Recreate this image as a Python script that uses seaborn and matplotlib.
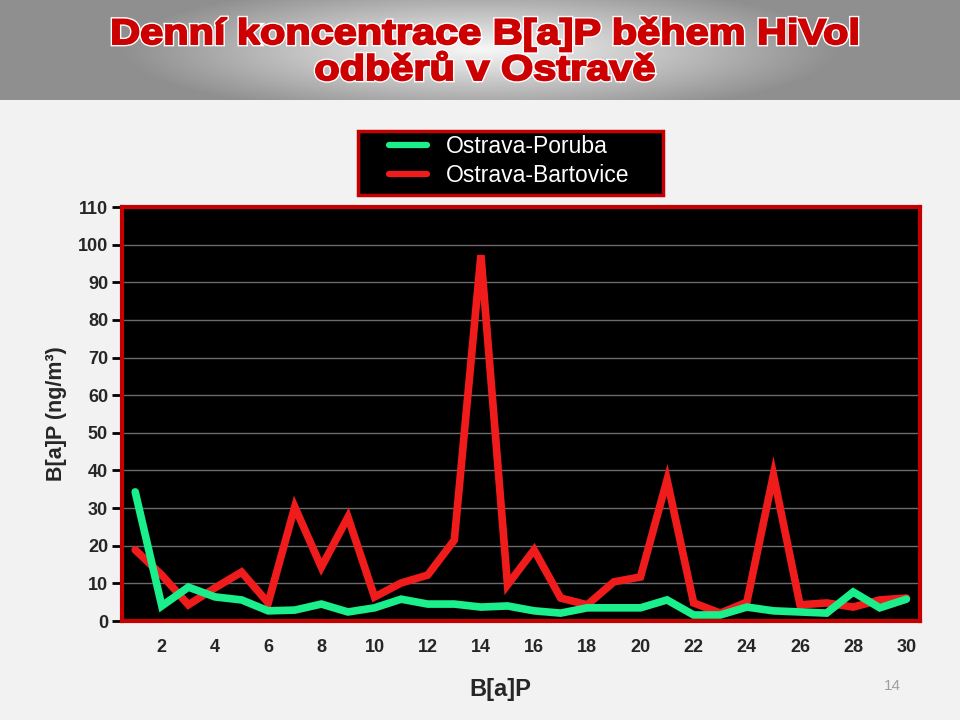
import numpy as np
import pandas as pd
import matplotlib
matplotlib.use("Agg")
import matplotlib.pyplot as plt
from matplotlib.lines import Line2D
from matplotlib.patches import PathPatch, Rectangle
from matplotlib.textpath import TextPath
from matplotlib.font_manager import FontProperties
from matplotlib.transforms import Affine2D
import seaborn as sns

days = list(range(1, 31))
poruba = [34.3, 4.0, 9.0, 6.4, 5.6, 2.7, 2.9, 4.5, 2.4, 3.5,
          5.8, 4.5, 4.5, 3.7, 4.0, 2.7, 2.1, 3.5, 3.5, 3.5,
          5.6, 1.6, 1.6, 3.7, 2.7, 2.4, 2.1, 7.7, 3.5, 5.8]
bartovice = [18.9, 12.2, 4.3, 8.8, 13.0, 4.8, 30.3, 14.3, 27.6, 6.4,
             10.1, 12.2, 21.5, 97.2, 9.6, 18.9, 6.1, 4.3, 10.4, 11.7,
             37.5, 4.8, 2.1, 5.0, 38.8, 4.3, 4.8, 3.7, 5.6, 6.1]
series_names = ["Ostrava-Poruba", "Ostrava-Bartovice"]
y_ticks = list(range(0, 111, 10))
x_labels = list(range(2, 31, 2))
title_lines = ["Denní koncentrace B[a]P během HiVol", "odběrů v Ostravě"]

df = pd.DataFrame({
    "day": days * 2,
    "value": poruba + bartovice,
    "station": [series_names[0]] * 30 + [series_names[1]] * 30,
})

sns.set_style("white")
plt.rcParams["font.family"] = ["Liberation Sans", "DejaVu Sans"]

GREEN = "#1aef8c"
RED = "#f01c1c"
BORDER = "#c40000"
BG = "#f2f2f2"
TITLE_RED = "#cc0000"

W, H = 960, 720
fig = plt.figure(figsize=(9.6, 7.2), dpi=100, facecolor=BG)

# title band with radial gradient
band = fig.add_axes([0, 0.861, 1, 0.139])
gx = np.linspace(-1, 1, 400)
gy = np.linspace(-1, 1, 60)
X, Y = np.meshgrid(gx, gy)
R = np.sqrt((X / 0.75) ** 2 + (Y / 1.4) ** 2)
G = np.clip(1 - R, 0, 1)
lo, hi = 0.56, 0.97
img = lo + (hi - lo) * G
band.imshow(img, cmap="gray", vmin=0, vmax=1, aspect="auto", extent=[0, 1, 0, 1])
band.set_axis_off()
band.set_xlim(0, 1)
band.set_ylim(0, 1)

# heavy title drawn as text paths (pixel coordinates)
fp = FontProperties(family="Liberation Sans", weight="bold")
size_ref = 40
cap_h = TextPath((0, 0), "D", size=size_ref, prop=fp).get_extents().height
sy = 24.5 / cap_h
p1 = TextPath((0, 0), title_lines[0], size=size_ref, prop=fp)
sx = 744.0 / p1.get_extents().width
for txt, baseline in [(title_lines[0], 44), (title_lines[1], 80)]:
    path = TextPath((0, 0), txt, size=size_ref, prop=fp)
    ext = path.get_extents()
    cx = (ext.x0 + ext.x1) / 2
    tr = Affine2D().translate(-cx, 0).scale(sx, sy).translate(485, H - baseline)
    fig.add_artist(PathPatch(path, transform=tr, facecolor="white", edgecolor="white",
                             lw=3.4, zorder=5))
    fig.add_artist(PathPatch(path, transform=tr, facecolor=TITLE_RED, edgecolor=TITLE_RED,
                             lw=1.4, zorder=6))

ax = fig.add_axes([0.127, 0.1375, 0.831, 0.575])
ax.set_facecolor("black")

sns.lineplot(data=df[df.station == series_names[1]], x="day", y="value",
             color=RED, lw=5.5, ax=ax, legend=False, solid_joinstyle="miter")
sns.lineplot(data=df[df.station == series_names[0]], x="day", y="value",
             color=GREEN, lw=5.5, ax=ax, legend=False, solid_joinstyle="miter")

ax.set_xlim(0.5, 30.5)
ax.set_ylim(0, 110)
ax.set_yticks(y_ticks)
ax.set_yticklabels([str(v) for v in y_ticks], fontsize=13, fontweight="bold")
ax.yaxis.grid(True, color="#6a6a6a", lw=1)
ax.set_axisbelow(True)

ax.set_xticks(x_labels)
ax.set_xticklabels([str(v) for v in x_labels], fontsize=13, fontweight="bold")
ax.set_xticks(np.arange(0.5, 31, 1), minor=True)
ax.tick_params(axis="x", which="major", length=0, pad=13)
ax.tick_params(axis="x", which="minor", length=8, width=2, color="black", direction="out")
ax.tick_params(axis="y", which="major", length=7, width=2, color="black", direction="out",
               pad=3, left=True)

for s in ax.spines.values():
    s.set_color(BORDER)
    s.set_linewidth(3)

ax.set_xlabel("")
ax.set_ylabel("B[a]P (ng/m³)", fontsize=15.5, fontweight="bold")
ax.yaxis.set_label_coords(-0.069, 0.5)

fig.text(0.521, 0.042, "B[a]P", ha="center", va="center", fontsize=17, fontweight="bold")
fig.text(0.930, 0.047, "14", ha="center", va="center", fontsize=11, color="#a0a0a0")

# legend box
fig.add_artist(Rectangle((358 / W, 1 - 195 / H), 305 / W, 64 / H, transform=fig.transFigure,
                         facecolor="black", edgecolor=BORDER, lw=2.5, zorder=3))
handles = [Line2D([0], [0], color=GREEN, lw=4.5), Line2D([0], [0], color=RED, lw=4.5)]
leg = fig.legend(handles, series_names, loc="center left", bbox_to_anchor=(389 / W, 1 - 161 / H),
                 frameon=False, fontsize=16.5, labelcolor="white", handlelength=1.65,
                 handletextpad=0.85, borderpad=0, labelspacing=0.22, borderaxespad=0)
leg.set_zorder(4)

fig.savefig("out.png", dpi=100, facecolor=BG)
